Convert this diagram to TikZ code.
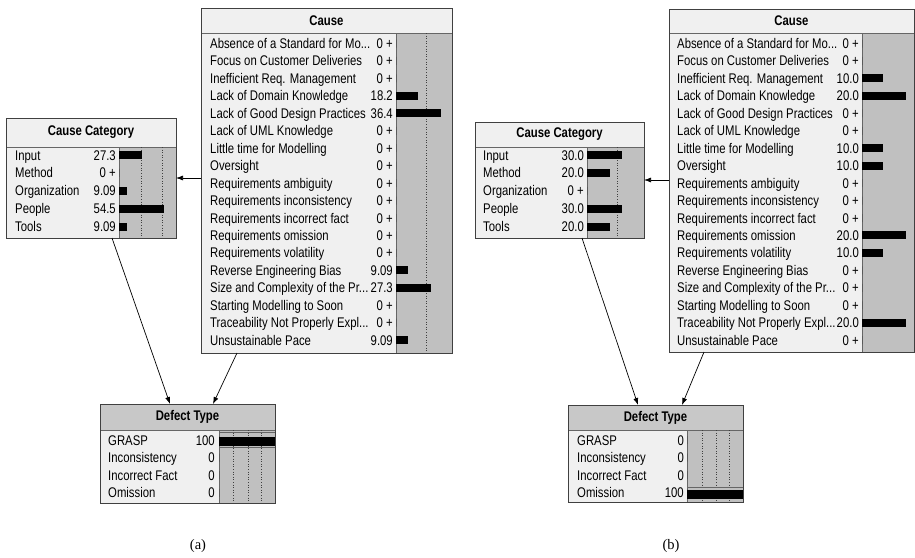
\documentclass[tikz,border=0pt]{standalone}
\usepackage{fontspec}
\setmainfont{Liberation Sans}[FakeStretch=0.81]
\newfontfamily\capfont{Liberation Serif}
\usetikzlibrary{arrows.meta,calc,fit}

\definecolor{panel}{HTML}{F0F0F0}
\definecolor{barbg}{HTML}{C0C0C0}
\definecolor{titlegray}{HTML}{C8C8C8}
\definecolor{edge}{HTML}{404040}

% truncation mark for long state names
\newcommand\trunc{...}

\tikzset{
  boxframe/.style={fill=panel, inner sep=0pt, outer sep=0pt},
  border/.style={draw=edge, line width=0.9pt},
  divider/.style={draw=edge!80, line width=0.6pt},
  lbl/.style={anchor=base west, inner sep=0pt, font=\fontsize{14}{14}\selectfont},
  val/.style={anchor=base east, inner sep=0pt, font=\fontsize{14}{14}\selectfont},
  ttl/.style={inner sep=0pt, font=\bfseries\fontsize{14}{14}\selectfont},
  gridline/.style={draw=black!75, dotted, line width=0.6pt},
  barfill/.style={fill=black},
  link/.style={draw=black, line width=0.7pt, -{Latex[length=7pt,width=5pt]}},
  caption/.style={inner sep=0pt, font=\capfont\fontsize{14.5}{14.5}\selectfont},
}

% monitor box: [title fill] name, x0, y0, x1, y1, title bottom, bar-area left, title
\newcommand\bnbox[9][panel]{%
  \path (#3,#4) coordinate (#2-nw) (#5,#6) coordinate (#2-se);
  \node[boxframe, fit=(#2-nw)(#2-se)] (#2) {};
  \fill[#1] (#3,#4) rectangle (#5,#7);
  \fill[barbg] (#8,#7) rectangle (#5,#6);
  \draw[divider] (#8,#7) -- (#8,#6);
  \draw[divider] (#3,#7) -- (#5,#7);
  \node[ttl] (#2-title) at ({(#3+#5)/2},{(#4+#7)/2}) {#9};
}

% rows: name, label x, value right x, bar x, first row y, pitch, {label/value/bar length}
\newcommand\bnrows[7]{%
  \foreach \lab/\val/\len [count=\i] in {#7} {
    \pgfmathsetmacro\yy{#5+(\i-1)*#6}
    \fill[barfill] (#4,\yy-4) rectangle ({#4+\len},\yy+4);
    \node[lbl] (#1-l\i) at (#2,\yy+5) {\lab};
    \node[val] (#1-v\i) at (#3,\yy+5) {\val};
  }
}

\newcommand\bnborder[1]{\draw[border] (#1.north west) rectangle (#1.south east);}

\begin{document}
\begin{tikzpicture}[x=1pt,y=-1pt]
\useasboundingbox (0,0) rectangle (915,557);

% ---------------- panel (a) ----------------
\bnbox{causeA}{201}{8}{452}{353}{33}{396}{Cause}
\draw[gridline] (426,33) -- (426,353);
\bnrows{causeA}{210}{393}{396}{43.5}{17.45}{
  Absence of a Standard for Mo\trunc/0 +/0,
  Focus on Customer Deliveries/0 +/0,
  Inefficient Req. Management/0 +/0,
  Lack of Domain Knowledge/18.2/22,
  Lack of Good Design Practices/36.4/45,
  Lack of UML Knowledge/0 +/0,
  Little time for Modelling/0 +/0,
  Oversight/0 +/0,
  Requirements ambiguity/0 +/0,
  Requirements inconsistency/0 +/0,
  Requirements incorrect fact/0 +/0,
  Requirements omission/0 +/0,
  Requirements volatility/0 +/0,
  Reverse Engineering Bias/9.09/12,
  Size and Complexity of the Pr\trunc/27.3/35,
  Starting Modelling to Soon/0 +/0,
  Traceability Not Properly Expl\trunc/0 +/0,
  Unsustainable Pace/9.09/12}
\bnborder{causeA}

\bnbox{catA}{6}{118}{176}{238}{147}{119}{Cause Category}
\draw[gridline] (141,147) -- (141,238) (162,147) -- (162,238);
\bnrows{catA}{15}{116}{119}{155}{17.9}{
  Input/27.3/23,
  Method/0 +/0,
  Organization/9.09/8,
  People/54.5/45,
  Tools/9.09/8}
\bnborder{catA}

\bnbox[titlegray]{defA}{100}{404}{275}{503}{430}{219}{Defect Type}
\draw[gridline] (233,430) -- (233,503) (248,430) -- (248,503) (261,430) -- (261,503);
\bnrows{defA}{108}{215}{219}{440}{17.6}{
  GRASP/100/0,
  Inconsistency/0/0,
  Incorrect Fact/0/0,
  Omission/0/0}
\draw[divider] (219,432) -- (275,432) (219,447.5) -- (275,447.5);
\fill[barfill] (219,437) rectangle (275,445.5);
\bnborder{defA}

\draw[link] (causeA.west |- catA.east) -- (catA.east);
\draw[link] ($(catA.south west)+(106,0)$) -- ($(defA.north west)+(70,0)$);
\draw[link] ($(causeA.south west)+(36,0)$) -- ($(defA.north west)+(113,0)$);

\node[caption] (capA) at (198,546) {(a)};

% ---------------- panel (b) ----------------
\bnbox{causeB}{669}{9}{914}{352}{33}{862}{Cause}
\bnrows{causeB}{677}{859}{862}{43.5}{17.45}{
  Absence of a Standard for Mo\trunc/0 +/0,
  Focus on Customer Deliveries/0 +/0,
  Inefficient Req. Management/10.0/21,
  Lack of Domain Knowledge/20.0/44,
  Lack of Good Design Practices/0 +/0,
  Lack of UML Knowledge/0 +/0,
  Little time for Modelling/10.0/21,
  Oversight/10.0/21,
  Requirements ambiguity/0 +/0,
  Requirements inconsistency/0 +/0,
  Requirements incorrect fact/0 +/0,
  Requirements omission/20.0/44,
  Requirements volatility/10.0/21,
  Reverse Engineering Bias/0 +/0,
  Size and Complexity of the Pr\trunc/0 +/0,
  Starting Modelling to Soon/0 +/0,
  Traceability Not Properly Expl\trunc/20.0/44,
  Unsustainable Pace/0 +/0}
\bnborder{causeB}

\bnbox{catB}{475}{122}{644}{238}{147}{587}{Cause Category}
\draw[gridline] (617,147) -- (617,238);
\bnrows{catB}{483}{584}{587}{155}{17.9}{
  Input/30.0/35,
  Method/20.0/23,
  Organization/0 +/0,
  People/30.0/35,
  Tools/20.0/23}
\bnborder{catB}

\bnbox[titlegray]{defB}{568}{405}{743}{502}{430}{687}{Defect Type}
\draw[gridline] (702,430) -- (702,502) (716,430) -- (716,502) (729,430) -- (729,502);
\bnrows{defB}{577}{684}{687}{440}{17.6}{
  GRASP/0/0,
  Inconsistency/0/0,
  Incorrect Fact/0/0,
  Omission/100/0}
\draw[divider] (687,487.5) -- (743,487.5);
\fill[barfill] (687,490) rectangle (743,499);
\bnborder{defB}

\draw[link] (causeB.west |- catB.east) -- (catB.east);
\draw[link] ($(catB.south west)+(107,0)$) -- ($(defB.north west)+(70,0)$);
\draw[link] ($(causeB.south west)+(35,0)$) -- ($(defB.north west)+(114,0)$);

\node[caption] (capB) at (671,546) {(b)};
\end{tikzpicture}
\end{document}
